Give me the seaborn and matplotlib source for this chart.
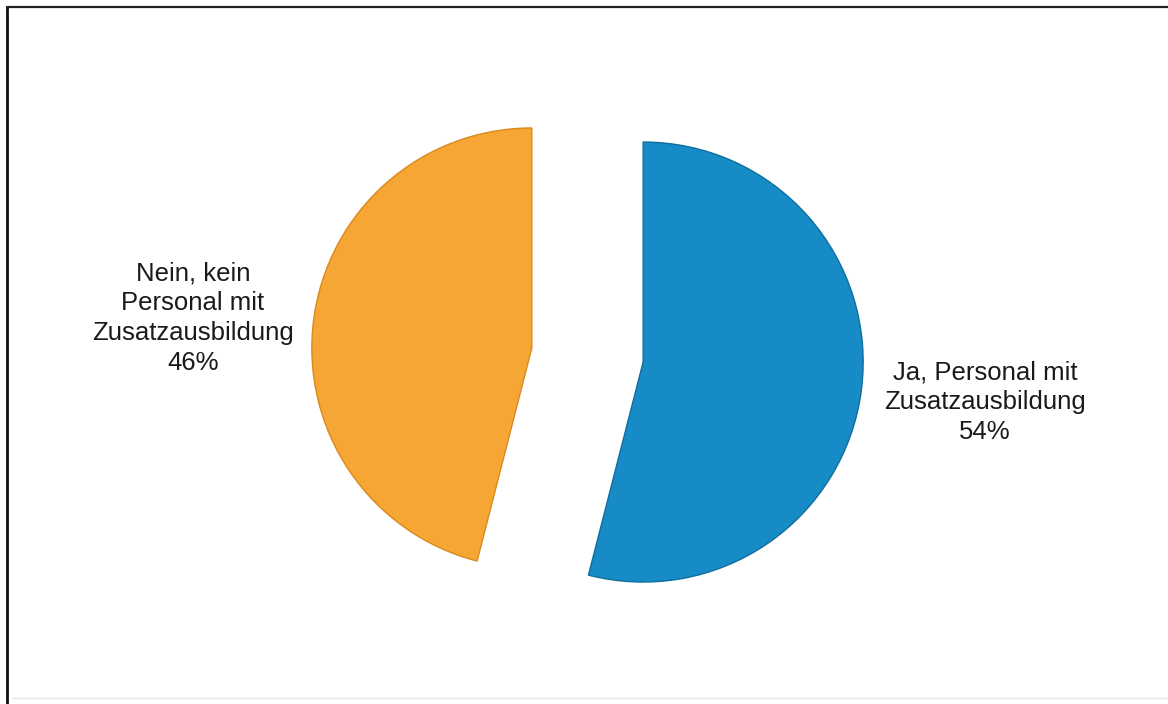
import matplotlib
matplotlib.use("Agg")
import matplotlib.pyplot as plt
from matplotlib.lines import Line2D
import seaborn as sns

# Survey answers: does the facility employ staff with additional training?
categories = ["Ja, Personal mit\nZusatzausbildung", "Nein, kein\nPersonal mit\nZusatzausbildung"]
shares = [54, 46]
colors = ["#168BC6", "#F5A634"]
edge_colors = ["#0F6E9E", "#D98A1E"]

sns.set_theme(style="white")
plt.rcParams["font.family"] = ["Liberation Sans", "DejaVu Sans"]

fig = plt.figure(figsize=(11.68, 7.04), dpi=100)
ax = fig.add_axes([0, 0, 1, 1])

labels = [f"{c}\n{v}%" for c, v in zip(categories, shares)]
wedges, texts = ax.pie(
    shares,
    labels=labels,
    colors=colors,
    startangle=90,
    counterclock=False,
    explode=[0.255, 0.255],
    radius=1.0,
    labeldistance=1.56,
    textprops=dict(ha="center", va="center", fontsize=18.5,
                   color="#1a1a1a", linespacing=1.3, multialignment="center"),
)
for w, ec in zip(wedges, edge_colors):
    w.set_edgecolor(ec)
    w.set_linewidth(1.0)

# 1 data unit = 220 px; pie centre at (587.5, 355) px from top-left
scale = 220.0
cx, cy = 587.5, 355.0
ax.set_xlim(-cx / scale, (1168 - cx) / scale)
ax.set_ylim(-(704 - cy) / scale, cy / scale)
ax.set_aspect("equal")
ax.axis("off")

# Label anchors, given in pixel positions from the top-left corner
label_px = [(985, 402), (193, 318)]
for t, (px, py) in zip(texts, label_px):
    t.set_position(((px - cx) / scale, (cy - py) / scale))

# Outer frame
W, H = 1168.0, 704.0
def fx(px):
    return px / W
def fy(py):
    return 1 - py / H
fig.add_artist(Line2D([fx(7), fx(7)], [fy(7), fy(704)], color="#111111", lw=2.0))
fig.add_artist(Line2D([fx(7), fx(1168)], [fy(7), fy(7)], color="#222222", lw=1.6))
fig.add_artist(Line2D([fx(12), fx(1168)], [fy(698), fy(698)], color="#e6e6e6", lw=1.0))

fig.savefig("out.png", dpi=100, facecolor="white")
